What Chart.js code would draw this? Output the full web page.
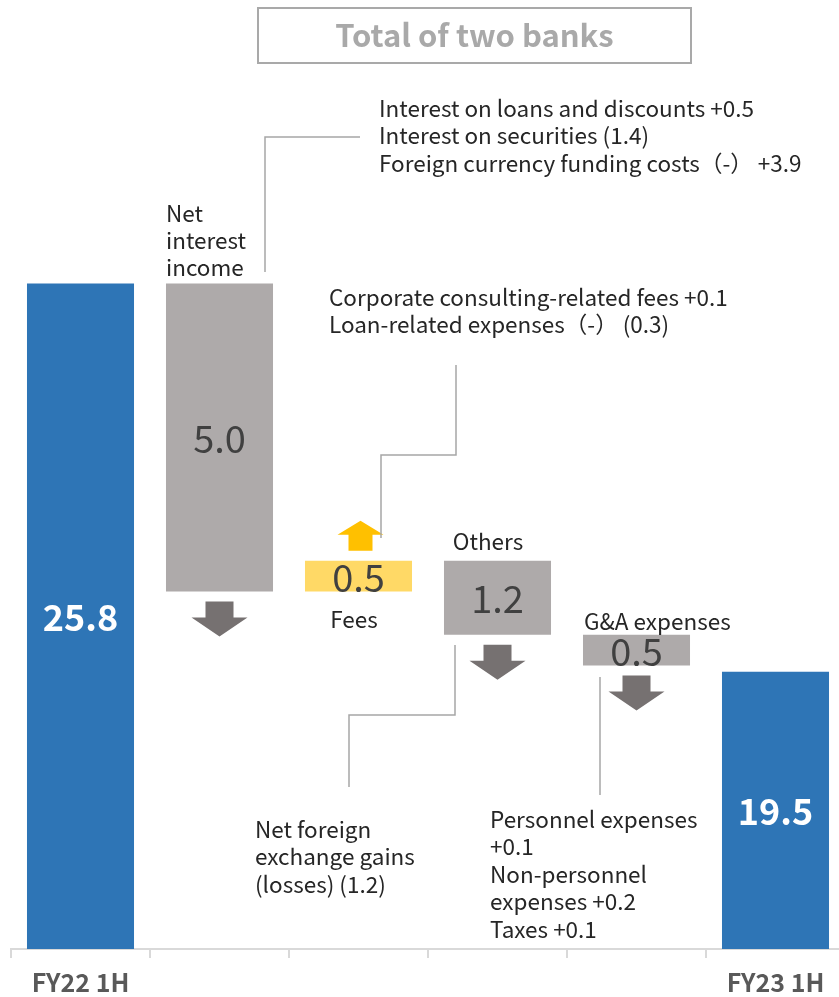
<!DOCTYPE html>
<html>
<head>
<meta charset="utf-8">
<script src="https://cdn.jsdelivr.net/npm/chart.js@4/dist/chart.umd.min.js"></script>
<style>
  html, body { margin: 0; padding: 0; background: #fff; overflow: hidden; }
  #wrap { position: relative; width: 839px; height: 997px; overflow: hidden; }
  #chart { position: absolute; left: 0; top: 0; }
  #heading {
    position: absolute; left: 257px; top: 7px; width: 431px; height: 53px;
    border: 2px solid #a9a9a9; box-sizing: content-box;
    font: bold 31px "Noto Sans CJK JP", "Noto Sans", sans-serif; color: #a9a9a9;
    display: flex; align-items: center; justify-content: center;
    padding-bottom: 0; line-height: 1;
  }
  #heading span { position: relative; top: -2px; }
</style>
</head>
<body>
<div id="wrap">
  <canvas id="chart" width="845" height="997"></canvas>
  <div id="heading"><span>Total of two banks</span></div>
</div>
<script>
// Ordinary profit bridge, FY22 1H -> FY23 1H (billions of yen)
const categories = ['FY22 1H', 'Net interest income', 'Fees', 'Others', 'G&A expenses', 'FY23 1H'];
const tickLabels = ['FY22 1H', '', '', '', '', 'FY23 1H'];
const startTotal = 25.8;
const endTotal = 19.5;
const changes = [-5.0, 0.5, -1.2, -0.5];          // net interest, fees, others, G&A
const valueLabels = ['25.8', '5.0', '0.5', '1.2', '0.5', '19.5'];
const barKinds = ['total', 'down', 'up', 'down', 'down', 'total'];

// floating bars for the steps, plain values for the totals
const barData = [startTotal];
let running = startTotal;
changes.forEach(c => {
  const next = running + c;
  barData.push([Math.min(running, next), Math.max(running, next)]);
  running = next;
});
barData.push(endTotal);

const COLORS = { total: '#2e75b6', down: '#aeaaaa', up: '#ffd966' };
const ARROW = { down: '#767171', up: '#ffc000' };
const FONT = '"Noto Sans CJK JP", "Noto Sans", sans-serif';
const TEXT = '#262626';

// text blocks and leader lines around the bars
const notes = [
  { lines: ['Interest on loans and discounts +0.5', 'Interest on securities (1.4)', 'Foreign currency funding costs（-） +3.9'], x: 379, y: 108, lh: 27.5, align: 'left' },
  { lines: ['Corporate consulting-related fees +0.1', 'Loan-related expenses（-） (0.3)'], x: 329, y: 297, lh: 27.5, align: 'left' },
  { lines: ['Net', 'interest', 'income'], x: 166, y: 213, lh: 27, align: 'left' },
  { lines: ['Fees'], x: 354, y: 619, lh: 27, align: 'center' },
  { lines: ['Others'], x: 488, y: 541, lh: 27, align: 'center' },
  { lines: ['G&A expenses'], x: 584, y: 621, lh: 27, align: 'left' },
  { lines: ['Net foreign', 'exchange gains', '(losses) (1.2)'], x: 255, y: 829, lh: 27.5, align: 'left' },
  { lines: ['Personnel expenses', '+0.1', 'Non-personnel', 'expenses +0.2', 'Taxes +0.1'], x: 490, y: 819, lh: 27.5, align: 'left' }
];
const leaders = [
  [[265, 272], [265, 137], [360, 137]],
  [[456, 365], [456, 455], [381, 455], [381, 538]],
  [[349, 787], [349, 715], [455, 715], [455, 645]],
  [[600, 677], [600, 795]]
];

const bridgeDecor = {
  id: 'bridgeDecor',
  afterDatasetsDraw(chart) {
    const ctx = chart.ctx;
    const area = chart.chartArea;
    const meta = chart.getDatasetMeta(0);

    // value labels centred in the visible part of each bar
    meta.data.forEach((bar, i) => {
      const p = bar.getProps(['x', 'y', 'base'], true);
      const top = Math.max(Math.min(p.y, p.base), area.top);
      const bottom = Math.min(Math.max(p.y, p.base), area.bottom);
      const isTotal = barKinds[i] === 'total';
      ctx.save();
      ctx.font = (isTotal ? 'bold 36px ' : '38px ') + FONT;
      ctx.fillStyle = isTotal ? '#ffffff' : '#404040';
      ctx.textAlign = 'center';
      ctx.textBaseline = 'middle';
      ctx.fillText(valueLabels[i], p.x, (top + bottom) / 2 + 1);
      ctx.restore();
    });

    // block arrows showing direction of each step
    meta.data.forEach((bar, i) => {
      const kind = barKinds[i];
      if (kind === 'total') return;
      const p = bar.getProps(['x', 'y', 'base'], true);
      const top = Math.min(p.y, p.base);
      const bottom = Math.max(p.y, p.base);
      ctx.save();
      ctx.fillStyle = ARROW[kind];
      ctx.beginPath();
      if (kind === 'down') {
        const y0 = bottom + 10, sw = 14, sh = 16, hw = 28, hh = 19;
        ctx.moveTo(p.x - sw, y0); ctx.lineTo(p.x + sw, y0);
        ctx.lineTo(p.x + sw, y0 + sh); ctx.lineTo(p.x + hw, y0 + sh);
        ctx.lineTo(p.x, y0 + sh + hh); ctx.lineTo(p.x - hw, y0 + sh);
        ctx.lineTo(p.x - sw, y0 + sh);
      } else {
        const cx = p.x + 2, y0 = top - 10, sw = 12, sh = 16, hw = 23, hh = 14;
        ctx.moveTo(cx - sw, y0); ctx.lineTo(cx + sw, y0);
        ctx.lineTo(cx + sw, y0 - sh); ctx.lineTo(cx + hw, y0 - sh);
        ctx.lineTo(cx, y0 - sh - hh); ctx.lineTo(cx - hw, y0 - sh);
        ctx.lineTo(cx - sw, y0 - sh);
      }
      ctx.closePath();
      ctx.fill();
      ctx.restore();
    });

    // leader lines
    ctx.save();
    ctx.strokeStyle = '#a6a6a6';
    ctx.lineWidth = 1.5;
    leaders.forEach(path => {
      ctx.beginPath();
      path.forEach(([x, y], k) => k ? ctx.lineTo(x, y) : ctx.moveTo(x, y));
      ctx.stroke();
    });
    ctx.restore();

    // text blocks
    ctx.save();
    ctx.font = '22.5px ' + FONT;
    ctx.fillStyle = TEXT;
    ctx.textBaseline = 'middle';
    notes.forEach(n => {
      ctx.textAlign = n.align;
      n.lines.forEach((line, k) => ctx.fillText(line, n.x, n.y + k * n.lh));
    });
    ctx.restore();
  }
};

new Chart(document.getElementById('chart'), {
  type: 'bar',
  data: {
    labels: categories,
    datasets: [{
      data: barData,
      backgroundColor: barKinds.map(k => COLORS[k]),
      borderWidth: 0,
      barPercentage: 0.77,
      categoryPercentage: 1.0
    }]
  },
  options: {
    responsive: false,
    animation: false,
    layout: { padding: { left: 11, right: 0, top: 0, bottom: 0 } },
    plugins: { legend: { display: false }, tooltip: { enabled: false } },
    scales: {
      x: {
        grid: { display: true, drawOnChartArea: false, drawTicks: true, tickLength: 9, color: '#d9d9d9', lineWidth: 2, offset: true },
        border: { display: true, color: '#d9d9d9', width: 2 },
        ticks: {
          color: '#595959',
          font: { family: FONT, size: 25, weight: 'bold' },
          padding: 9,
          maxRotation: 0,
          autoSkip: false,
          callback: (v, i) => tickLabels[i]
        },
        afterFit: scale => { scale.height = 48; }
      },
      y: { display: false, min: 15, max: 30.4 }
    }
  },
  plugins: [bridgeDecor]
});
</script>
</body>
</html>
